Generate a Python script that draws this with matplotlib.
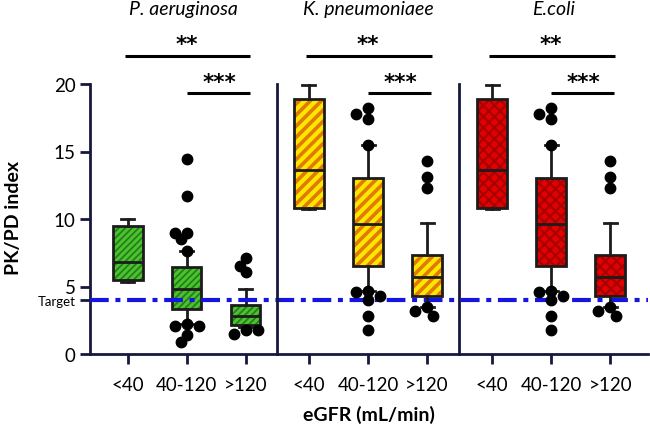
import matplotlib
matplotlib.use("Agg")
import matplotlib.pyplot as plt
from matplotlib.patches import PathPatch
from matplotlib.transforms import blended_transform_factory
import numpy as np

plt.rcParams['font.family'] = ['Lato', 'DejaVu Sans']
plt.rcParams['hatch.linewidth'] = 1.6

# ---------------- data ----------------
species = ["P. aeruginosa", "K. pneumoniaee", "E.coli"]
groups = ["<40", "40-120", ">120"]

# five-number summaries per eGFR group: whislo, q1, median, q3, whishi
pa_stats = [[5.3, 5.45, 6.8, 9.45, 10.0],
            [2.2, 3.3, 4.8, 6.45, 7.65],
            [2.0, 2.15, 2.8, 3.6, 4.8]]
pa_fliers = [[],
             [14.45, 11.7, 9.0, 8.55, 9.0, 7.65, 2.2, 2.1, 2.1, 1.4, 0.9],
             [7.1, 6.5, 6.05, 1.75, 1.5, 1.75]]

kp_stats = [[10.75, 10.8, 13.6, 18.9, 19.9],
            [4.7, 6.55, 9.65, 13.05, 15.45],
            [3.45, 4.3, 5.7, 7.35, 9.7]]
kp_fliers = [[],
             [17.4, 18.2, 17.8, 15.45, 4.7, 4.6, 4.3, 4.0, 2.85, 1.75],
             [14.3, 13.1, 12.3, 3.45, 3.2, 2.85]]

ec_stats = [[10.75, 10.8, 13.6, 18.9, 19.9],
            [4.7, 6.55, 9.65, 13.05, 15.45],
            [3.45, 4.3, 5.7, 7.35, 9.7]]
ec_fliers = [[],
             [17.4, 18.2, 17.8, 15.45, 4.7, 4.6, 4.3, 4.0, 2.85, 1.75],
             [14.3, 13.1, 12.3, 3.45, 3.2, 2.85]]

target = 4
sig_outer = ["**", "**", "**"]
sig_inner = ["***", "***", "***"]
yticks = [0, 5, 10, 15, 20]

# ---------------- style ----------------
navy = "#16183f"
dark = "#1c1c1c"
faces = ["#4ec22e", "#ffe600", "#e30000"]
hatch_colors = ["#22801a", "#e07a00", "#a80000"]
hatches = ["/////", "///", "xxx"]
hatch_lws = [1.3, 2.6, 1.6]
all_stats = [pa_stats, kp_stats, ec_stats]
all_fliers = [pa_fliers, kp_fliers, ec_fliers]


def swarm_offsets(vals, xscale=59.0, yscale=13.5, diam=10.0):
    placed, offs = [], []
    step = diam * 0.6 / xscale
    for v in vals:
        dx = 0.0
        for k in [0, -1, 1, -2, 2, -3, 3, -4, 4]:
            dx = k * step
            if all(((dx - px) * xscale) ** 2 + ((v - py) * yscale) ** 2 >= (diam * 0.85) ** 2
                   for px, py in placed):
                break
        placed.append((dx, v))
        offs.append(dx)
    return offs


fig = plt.figure(figsize=(6.5, 4.31), dpi=100)
gs = fig.add_gridspec(1, 3, left=90 / 650, right=648 / 650,
                      bottom=1 - 355 / 431, top=1 - 85 / 431,
                      wspace=0, width_ratios=[187, 182, 189])
xlims = [(-0.64, 2.53), (-0.54, 2.54), (-0.56, 2.64)]
axes = []
for i in range(3):
    ax = fig.add_subplot(gs[0, i], sharey=axes[0] if axes else None)
    ax.patch.set_visible(False)
    axes.append(ax)
    stats = [dict(whislo=s[0], q1=s[1], med=s[2], q3=s[3], whishi=s[4], fliers=f, label=g)
             for s, f, g in zip(all_stats[i], all_fliers[i], groups)]
    pos = np.arange(len(groups))
    bp = ax.bxp(stats, positions=pos, widths=0.5, capwidths=0.22, patch_artist=True,
                showfliers=False,
                boxprops=dict(facecolor=faces[i], edgecolor=faces[i], linewidth=0, zorder=2),
                whiskerprops=dict(color=dark, lw=2, zorder=3),
                capprops=dict(color=dark, lw=2, zorder=3),
                medianprops=dict(color=dark, lw=2, zorder=3.5))
    for b in bp['boxes']:
        path = b.get_path()
        hp = PathPatch(path, facecolor='none', edgecolor=hatch_colors[i], hatch=hatches[i],
                       lw=0, zorder=2.1)
        if hasattr(hp, 'set_hatch_linewidth'):
            hp.set_hatch_linewidth(hatch_lws[i])
        ax.add_patch(hp)
        ax.add_patch(PathPatch(path, facecolor='none', edgecolor=dark, lw=2, zorder=3.2))
    for p, fl in zip(pos, all_fliers[i]):
        if fl:
            offs = swarm_offsets(fl)
            ax.plot(p + np.array(offs), fl, 'o', color='black', ms=7.5, zorder=4, clip_on=False)

    ax.set_xlim(*xlims[i])
    ax.set_ylim(0, 20)
    ax.set_xticks(pos)
    ax.set_xticklabels(groups, fontsize=13.5)
    for s in ['top', 'right']:
        ax.spines[s].set_visible(False)
    for s in ['left', 'bottom']:
        ax.spines[s].set_color(navy)
        ax.spines[s].set_linewidth(2)
    ax.tick_params(axis='x', direction='out', length=7, width=2, color=navy, pad=9)
    if i > 0:
        ax.tick_params(axis='y', left=False, labelleft=False)

    # title
    tr = blended_transform_factory(ax.transAxes, ax.transData)
    ax.text(0.5, 25.6, species[i], transform=tr, ha='center', va='center',
            style='italic', fontsize=14, clip_on=False)
    # significance brackets
    ax.plot([-0.05, 2.08], [22.1, 22.1], color='black', lw=2.2, clip_on=False,
            solid_capstyle='butt')
    ax.text(1.0, 22.95, sig_outer[i], ha='center', va='center', fontsize=15.5,
            fontweight='bold', family='DejaVu Sans', clip_on=False)
    ax.plot([1.0, 2.07], [19.3, 19.3], color='black', lw=2.2, clip_on=False,
            solid_capstyle='butt')
    ax.text(1.55, 20.15, sig_inner[i], ha='center', va='center', fontsize=15.5,
            fontweight='bold', family='DejaVu Sans', clip_on=False)

ax0 = axes[0]
ax0.set_yticks(yticks + [target])
ax0.set_yticklabels([str(v) for v in yticks] + ["Target"])
ax0.tick_params(axis='y', direction='out', length=7, width=2, color=navy, labelsize=13.5)
for lab in ax0.get_yticklabels():
    if lab.get_text() == "Target":
        lab.set_fontsize(9.5)

# target line across all panels
trf = blended_transform_factory(fig.transFigure, ax0.transData)
ax0.plot([90 / 650, 648 / 650], [target, target], transform=trf, color='#1515e0', lw=3,
         ls=(0, (4.5, 1.6, 1.2, 1.6)), clip_on=False, zorder=6)

fig.text(369 / 650, 1 - 415 / 431, "eGFR (mL/min)", ha='center', va='center',
         fontsize=14, fontweight='bold')
fig.text(14 / 650, 1 - 218 / 431, "PK/PD index", ha='center', va='center',
         rotation=90, fontsize=14, fontweight='bold')

fig.savefig("out.png", dpi=100)
